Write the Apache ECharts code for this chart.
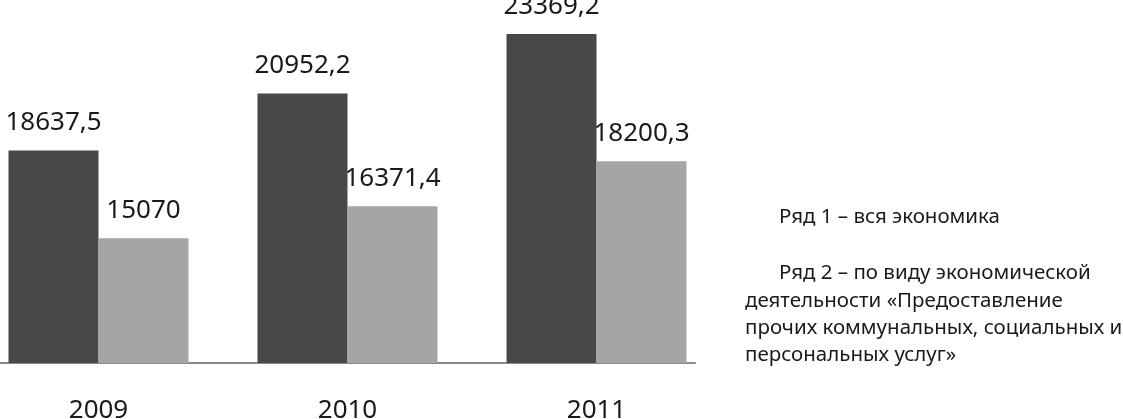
<!DOCTYPE html>
<html>
<head>
<meta charset="utf-8">
<script src="https://cdn.jsdelivr.net/npm/echarts@6/dist/echarts.min.js"></script>
<style>
html,body{margin:0;padding:0;background:#fff;overflow:hidden;}
#wrap{width:1123px;height:419px;overflow:hidden;position:relative;}
#chart{width:1149px;height:419px;position:absolute;left:-26px;top:0;}
</style>
</head>
<body>
<div id="wrap"><div id="chart"></div></div>
<script>
var categories = ['2009', '2010', '2011'];
var series1 = [18637.5, 20952.2, 23369.2];
var series2 = [15070, 16371.4, 18200.3];
var legendLines = [
  'Ряд 1 – вся экономика',
  'Ряд 2 – по виду экономической',
  'деятельности «Предоставление',
  'прочих коммунальных, социальных и',
  'персональных услуг»'
];

function fmt(p) { return String(p.value).replace('.', ','); }

var OFF = 26; // chart canvas is shifted left by this many pixels
var chart = echarts.init(document.getElementById('chart'), null, {renderer: 'canvas'});
var fontFam = 'Noto Sans';
var option = {
  animation: false,
  backgroundColor: '#ffffff',
  grid: [
    {left: 0, width: 747, top: -6, height: 369, outerBoundsMode: 'none', containLabel: false},
    {left: OFF, width: 695, top: -6, height: 369, outerBoundsMode: 'none', containLabel: false}
  ],
  xAxis: [
    {
      type: 'category', gridIndex: 0, data: categories,
      axisLine: {show: false}, axisTick: {show: false},
      axisLabel: {fontFamily: fontFam, fontSize: 26, color: '#1a1a1a', margin: 35}
    },
    {
      type: 'value', gridIndex: 1, min: 0, max: 1,
      axisLine: {show: true, onZero: false, lineStyle: {color: '#8a8a8a', width: 2}},
      axisTick: {show: false}, axisLabel: {show: false}, splitLine: {show: false}
    }
  ],
  yAxis: [
    {type: 'value', gridIndex: 0, min: 10000, max: 25000, show: false, splitLine: {show: false}},
    {type: 'value', gridIndex: 1, min: 0, max: 1, show: false}
  ],
  series: [
    {
      name: 'Ряд 1', type: 'bar', data: series1, barWidth: 90, barGap: '0%',
      itemStyle: {color: '#484848'},
      label: {show: true, position: 'top', distance: 15, formatter: fmt,
        fontFamily: fontFam, fontSize: 26, color: '#1a1a1a'}
    },
    {
      name: 'Ряд 2', type: 'bar', data: series2, barWidth: 90, barGap: '0%',
      itemStyle: {color: '#a5a5a5'},
      label: {show: true, position: 'top', distance: 15, formatter: fmt,
        fontFamily: fontFam, fontSize: 26, color: '#1a1a1a'}
    }
  ],
  graphic: legendLines.map(function (t, i) {
    var ys = [217, 273, 300.3, 327.6, 354.9];
    return {
      type: 'text', left: (i < 2 ? 779 : 745) + OFF, top: ys[i] - 10,
      style: {text: t, fontFamily: fontFam, fontSize: 20.5, fill: '#1a1a1a'}
    };
  })
};
chart.setOption(option);
</script>
</body>
</html>
